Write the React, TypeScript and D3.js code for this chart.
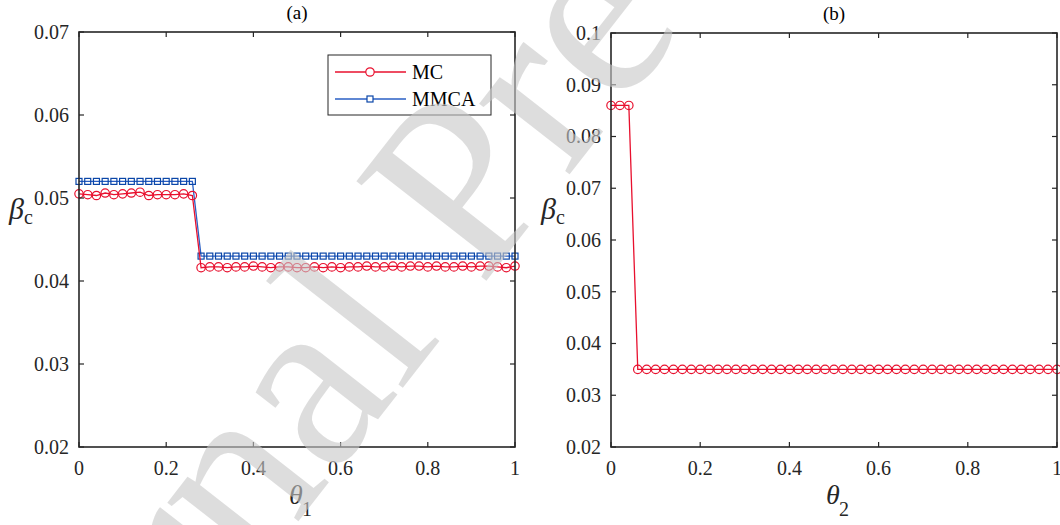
import React from "react";
import * as d3 from "d3";

const thetaStep = 0.02;
const thetaValues: number[] = d3.range(0, 51).map((i) => +(i * thetaStep).toFixed(2));

const mcA: number[] = [
  0.0505, 0.0504, 0.0503, 0.0506, 0.0504, 0.0505, 0.0506, 0.0507, 0.0503, 0.0504, 0.0504, 0.0504, 0.0505, 0.0503,
  0.0416, 0.0417, 0.0417, 0.0416, 0.0417, 0.0417, 0.0418, 0.0417, 0.0416, 0.0417, 0.0417, 0.0416, 0.0416, 0.0417,
  0.0416, 0.0417, 0.0416, 0.0417, 0.0417, 0.0418, 0.0417, 0.0417, 0.0418, 0.0417, 0.0418, 0.0418, 0.0417, 0.0418,
  0.0417, 0.0417, 0.0418, 0.0417, 0.0418, 0.0418, 0.0417, 0.0416, 0.0418,
];
const mmcaA: number[] = [
  0.052, 0.052, 0.052, 0.052, 0.052, 0.052, 0.052, 0.052, 0.052, 0.052, 0.052, 0.052, 0.052, 0.052,
  0.043, 0.043, 0.043, 0.043, 0.043, 0.043, 0.043, 0.043, 0.043, 0.043, 0.043, 0.043, 0.043, 0.043,
  0.043, 0.043, 0.043, 0.043, 0.043, 0.043, 0.043, 0.043, 0.043, 0.043, 0.043, 0.043, 0.043, 0.043,
  0.043, 0.043, 0.043, 0.043, 0.043, 0.043, 0.043, 0.043, 0.043,
];
const mcB: number[] = [
  0.086, 0.086, 0.086, 0.035, 0.035, 0.035, 0.035, 0.035, 0.035, 0.035, 0.035, 0.035, 0.035, 0.035,
  0.035, 0.035, 0.035, 0.035, 0.035, 0.035, 0.035, 0.035, 0.035, 0.035, 0.035, 0.035, 0.035, 0.035,
  0.035, 0.035, 0.035, 0.035, 0.035, 0.035, 0.035, 0.035, 0.035, 0.035, 0.035, 0.035, 0.035, 0.035,
  0.035, 0.035, 0.035, 0.035, 0.035, 0.035, 0.035, 0.035, 0.035,
];

const xTicks: number[] = [0, 0.2, 0.4, 0.6, 0.8, 1];
const yTicksA: number[] = [0.02, 0.03, 0.04, 0.05, 0.06, 0.07];
const yTicksB: number[] = [0.02, 0.03, 0.04, 0.05, 0.06, 0.07, 0.08, 0.09, 0.1];
const seriesNames: string[] = ["MC", "MMCA"];

const RED = "#e8102e";
const BLUE_LINE = "#2a5fc4";
const BLUE_MARK = "#0a46a8";
const AXIS = "#262626";
const FONT = "'Liberation Serif', 'Times New Roman', serif";

type PanelProps = {
  left: number;
  right: number;
  top: number;
  bottom: number;
  yDomain: [number, number];
  yTicks: number[];
  title: string;
  sub: string;
  children: (x: d3.ScaleLinear<number, number>, y: d3.ScaleLinear<number, number>) => React.ReactNode;
};

function fmtY(v: number) {
  return d3.format(".2~f")(v);
}

function Panel({ left, right, top, bottom, yDomain, yTicks, title, sub, children }: PanelProps) {
  const x = d3.scaleLinear().domain([0, 1]).range([left, right]);
  const y = d3.scaleLinear().domain(yDomain).range([bottom, top]);
  const tl = 5;
  const mid = (left + right) / 2;
  return (
    <g>
      {children(x, y)}
      <rect x={left} y={top} width={right - left} height={bottom - top} fill="none" stroke={AXIS} strokeWidth={1.6} />
      {xTicks.map((t) => (
        <g key={"x" + t}>
          <line x1={x(t)} x2={x(t)} y1={bottom} y2={bottom - tl} stroke={AXIS} strokeWidth={1.2} />
          <line x1={x(t)} x2={x(t)} y1={top} y2={top + tl} stroke={AXIS} strokeWidth={1.2} />
          <text x={x(t)} y={bottom + 28} textAnchor="middle" fontSize={20} fontFamily={FONT} fill={AXIS}>
            {d3.format("~g")(t)}
          </text>
        </g>
      ))}
      {yTicks.map((t) => (
        <g key={"y" + t}>
          <line x1={left} x2={left + tl} y1={y(t)} y2={y(t)} stroke={AXIS} strokeWidth={1.2} />
          <line x1={right} x2={right - tl} y1={y(t)} y2={y(t)} stroke={AXIS} strokeWidth={1.2} />
          <text x={left - 10} y={y(t)} dy="0.34em" textAnchor="end" fontSize={20} fontFamily={FONT} fill={AXIS}>
            {fmtY(t)}
          </text>
        </g>
      ))}
      <text x={mid} y={top - 13} textAnchor="middle" fontSize={19} fontFamily={FONT} fill="#000">
        {title}
      </text>
      <text x={mid - 8} y={bottom + 57} fontSize={28} fontFamily={FONT} fill={AXIS} fontStyle="italic">
        θ
      </text>
      <text x={mid + 5} y={bottom + 69} fontSize={20} fontFamily={FONT} fill={AXIS}>
        {sub}
      </text>
      <text x={left - 70} y={219} fontSize={30} fontFamily={FONT} fill={AXIS} fontStyle="italic">
        β
      </text>
      <text x={left - 55} y={224} fontSize={20} fontFamily={FONT} fill={AXIS}>
        c
      </text>
    </g>
  );
}

export default function App() {
  const line = (x: any, y: any, vals: number[]) =>
    d3
      .line<number>()
      .x((_, i) => x(thetaValues[i]))
      .y((d) => y(d))(vals) as string;

  return (
    <svg width={1060} height={525} style={{ position: "absolute", left: 0, top: 0, background: "#fff" }}>
      <rect x={0} y={0} width={1060} height={525} fill="#fff" />
      <Panel left={79} right={515} top={32} bottom={447} yDomain={[0.02, 0.07]} yTicks={yTicksA} title="(a)" sub="1">
        {(x, y) => (
          <g>
            <path d={line(x, y, mmcaA)} fill="none" stroke={BLUE_LINE} strokeWidth={1.3} />
            {mmcaA.map((v, i) => (
              <rect key={"s" + i} x={x(thetaValues[i]) - 3} y={y(v) - 3} width={6} height={6} fill="none" stroke={BLUE_MARK} strokeWidth={1.2} />
            ))}
            <path d={line(x, y, mcA)} fill="none" stroke={RED} strokeWidth={1.3} />
            {mcA.map((v, i) => (
              <circle key={"c" + i} cx={x(thetaValues[i])} cy={y(v)} r={4.2} fill="none" stroke={RED} strokeWidth={1.2} />
            ))}
            <g>
              <rect x={328} y={55} width={163} height={60} fill="#fff" stroke={AXIS} strokeWidth={1} />
              <line x1={335} x2={406} y1={72} y2={72} stroke={RED} strokeWidth={1.3} />
              <circle cx={370} cy={72} r={4.2} fill="#fff" stroke={RED} strokeWidth={1.2} />
              <text x={412} y={79} fontSize={20} fontFamily={FONT} fill="#000">{seriesNames[0]}</text>
              <line x1={335} x2={406} y1={99} y2={99} stroke={BLUE_LINE} strokeWidth={1.3} />
              <rect x={367} y={96} width={6} height={6} fill="#fff" stroke={BLUE_MARK} strokeWidth={1.2} />
              <text x={412} y={106} fontSize={20} fontFamily={FONT} fill="#000">{seriesNames[1]}</text>
            </g>
          </g>
        )}
      </Panel>
      <Panel left={611} right={1057} top={33} bottom={447} yDomain={[0.02, 0.1]} yTicks={yTicksB} title="(b)" sub="2">
        {(x, y) => (
          <g>
            <path d={line(x, y, mcB)} fill="none" stroke={RED} strokeWidth={1.3} />
            {mcB.map((v, i) => (
              <circle key={"c" + i} cx={x(thetaValues[i])} cy={y(v)} r={4.2} fill="none" stroke={RED} strokeWidth={1.2} />
            ))}
          </g>
        )}
      </Panel>
      <text
        x={0}
        y={0}
        transform="translate(530,225) rotate(-52)"
        textAnchor="middle"
        fontSize={250}
        fontFamily={FONT}
        fill="#c8c8c8"
        opacity={0.6}
      >
        Journal Pre-proof
      </text>
    </svg>
  );
}
